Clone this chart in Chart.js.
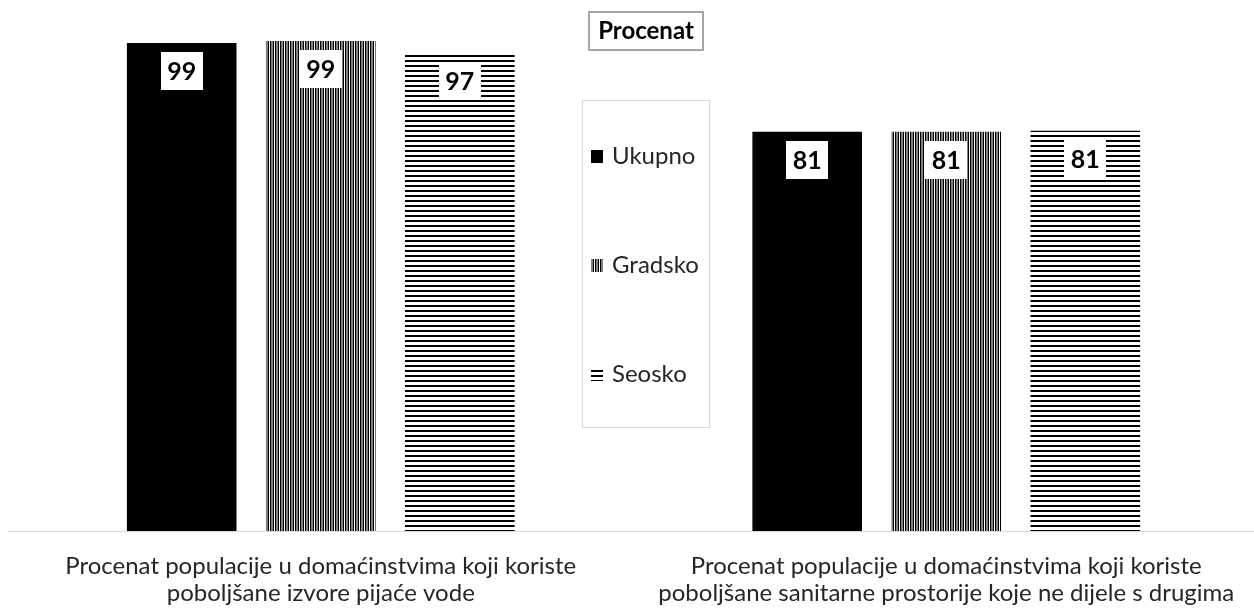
<!DOCTYPE html>
<html>
<head>
<meta charset="utf-8">
<script src="https://cdn.jsdelivr.net/npm/chart.js@4"></script>
<style>
  html, body { margin: 0; padding: 0; background: #fff; overflow: hidden; }
  #chart { display: block; }
</style>
</head>
<body>
<canvas id="chart" width="1259" height="608"></canvas>
<script>
// --- data ---
const categories = [
  ['Procenat populacije u domaćinstvima koji koriste', 'poboljšane izvore pijaće vode'],
  ['Procenat populacije u domaćinstvima koji koriste', 'poboljšane sanitarne prostorije koje ne dijele s drugima']
];
const seriesNames = ['Ukupno', 'Gradsko', 'Seosko'];
const ukupno = [99, 81];
const gradsko = [99.4, 81];
const seosko = [97, 81.2];
const chartTitle = 'Procenat';

const FONT = 'Lato, "Noto Sans", sans-serif';
const canvas = document.getElementById('chart');
const mainCtx = canvas.getContext('2d');

function makePattern(kind) {
  const c = document.createElement('canvas');
  const g = c.getContext('2d');
  if (kind === 'vert') {
    c.width = 5; c.height = 2;
    g.fillStyle = '#fff'; g.fillRect(0, 0, 5, 2);
    g.fillStyle = '#000';
    g.fillRect(0, 0, 1.5, 2);
    g.fillRect(2.5, 0, 1.5, 2);
  } else {
    c.width = 5; c.height = 5;
    g.fillStyle = '#fff'; g.fillRect(0, 0, 5, 5);
    g.fillStyle = '#000'; g.fillRect(0, 0, 5, 2);
  }
  return mainCtx.createPattern(c, 'repeat');
}

const fills = ['#000', makePattern('vert'), makePattern('horiz')];

// white boxes with rounded values near the top of each bar
const valueLabels = {
  id: 'valueLabels',
  afterDatasetsDraw(chart) {
    const ctx = chart.ctx;
    ctx.save();
    ctx.font = 'bold 25px ' + FONT;
    ctx.textAlign = 'center';
    ctx.textBaseline = 'middle';
    chart.data.datasets.forEach((ds, i) => {
      chart.getDatasetMeta(i).data.forEach((bar, j) => {
        const cx = bar.x, cy = bar.y + 28;
        ctx.fillStyle = '#fff';
        ctx.fillRect(Math.round(cx - 21), Math.round(cy - 19), 42, 38);
        ctx.fillStyle = '#000';
        ctx.fillText(String(Math.round(ds.data[j])), cx, cy + 1);
      });
    });
    ctx.restore();
  }
};

// boxed title and the legend sitting between the two groups
const boxes = {
  id: 'boxes',
  afterDraw(chart) {
    const ctx = chart.ctx;
    ctx.save();
    // title
    ctx.strokeStyle = '#a6a6a6';
    ctx.lineWidth = 2;
    ctx.strokeRect(589, 12, 114, 38);
    ctx.fillStyle = '#000';
    ctx.font = 'bold 24px ' + FONT;
    ctx.textAlign = 'center';
    ctx.textBaseline = 'middle';
    ctx.fillText(chartTitle, 646, 31);

    // legend
    ctx.strokeStyle = '#d9d9d9';
    ctx.lineWidth = 1;
    ctx.strokeRect(582.5, 100.5, 127, 327);
    const ys = [155, 264, 373];
    ctx.font = '24px ' + FONT;
    ctx.textAlign = 'left';
    chart.data.datasets.forEach((ds, i) => {
      ctx.fillStyle = ds.backgroundColor;
      ctx.fillRect(591, ys[i] - 5, 12, 13);
      ctx.fillStyle = '#262626';
      ctx.fillText(ds.label, 612, ys[i] + 1);
    });
    ctx.restore();
  }
};

new Chart(canvas, {
  type: 'bar',
  data: {
    labels: categories,
    datasets: [
      { label: seriesNames[0], data: ukupno, backgroundColor: fills[0] },
      { label: seriesNames[1], data: gradsko, backgroundColor: fills[1] },
      { label: seriesNames[2], data: seosko, backgroundColor: fills[2] }
    ]
  },
  options: {
    responsive: false,
    devicePixelRatio: 1,
    animation: false,
    categoryPercentage: 0.667,
    barPercentage: 0.788,
    layout: { padding: { top: 38, left: 8, right: 0, bottom: 0 } },
    plugins: {
      legend: { display: false },
      title: { display: false },
      tooltip: { enabled: false }
    },
    scales: {
      x: {
        grid: { display: false, drawTicks: false },
        border: { display: true, color: '#d9d9d9', width: 1 },
        ticks: {
          color: '#262626',
          padding: 22,
          maxRotation: 0,
          autoSkip: false,
          font: { family: FONT, size: 24, lineHeight: 1.12 }
        },
        afterFit(scale) { scale.height = 77; }
      },
      y: { display: false, min: 0, max: 100 }
    }
  },
  plugins: [valueLabels, boxes]
});
</script>
</body>
</html>
